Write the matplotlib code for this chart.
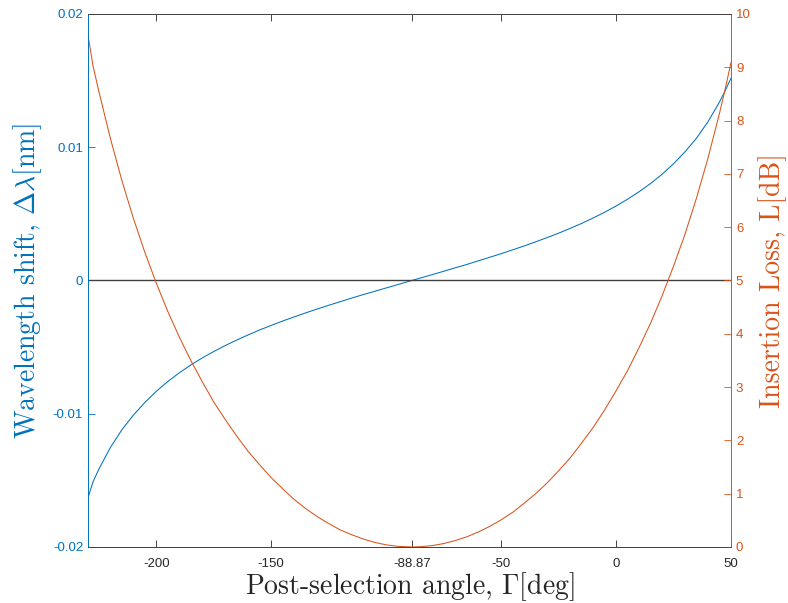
import matplotlib
matplotlib.use('Agg')
import matplotlib.pyplot as plt

# data
angle = [-229.7, -227.5, -225, -220, -215, -210, -205, -200, -195, -190, -185,
         -180, -175, -170, -165, -160, -155, -150, -145, -140, -135, -130,
         -125, -120, -115, -110, -105, -100, -95, -88.87, -85, -80, -75, -70,
         -65, -60, -55, -50, -45, -40, -35, -30, -25, -20, -15, -10, -5,
         0, 5, 10, 15, 20, 25, 30, 35, 40, 45, 47.5, 50]
shift = [-0.0163, -0.0151, -0.01416, -0.01254, -0.01121, -0.01011, -0.00916,
         -0.00832, -0.00758, -0.00693, -0.00634, -0.00581, -0.00533, -0.00488,
         -0.00447, -0.00408, -0.00371, -0.00337, -0.00304, -0.00273, -0.00243,
         -0.00214, -0.00186, -0.00159, -0.00132, -0.00106, -0.00081, -0.00056,
         -0.00031, 0.0, 0.00019, 0.00044, 0.00069, 0.00095, 0.00120, 0.00147,
         0.00174, 0.00201, 0.00230, 0.00259, 0.00290, 0.00322, 0.00355,
         0.00391, 0.00428, 0.00469, 0.00512, 0.00559, 0.00610, 0.00666,
         0.00728, 0.00797, 0.00876, 0.00966, 0.01068, 0.01192, 0.01340,
         0.01426, 0.01519]
loss = [9.6, 9.02, 8.55, 7.67, 6.88, 6.17, 5.53, 4.95, 4.42, 3.94, 3.50,
        3.10, 2.72, 2.39, 2.08, 1.79, 1.54, 1.30, 1.09, 0.89, 0.72, 0.57,
        0.44, 0.32, 0.23, 0.15, 0.086, 0.04, 0.012, 0.0, 0.005, 0.026, 0.064,
        0.12, 0.19, 0.28, 0.385, 0.51, 0.65, 0.82, 1.00, 1.20, 1.43, 1.67,
        1.95, 2.24, 2.57, 2.93, 3.31, 3.74, 4.20, 4.71, 5.27, 5.87, 6.55,
        7.30, 8.14, 8.60, 9.09]

xticks = [-200, -150, -88.87, -50, 0, 50]
xticklabels = ['-200', '-150', '-88.87', '-50', '0', '50']
yticks_left = [-0.02, -0.01, 0, 0.01, 0.02]
yticklabels_left = ['-0.02', '-0.01', '0', '0.01', '0.02']
yticks_right = list(range(0, 11))

blue = '#0072BD'
orange = '#D95319'
gray = '#262626'

plt.rcParams['font.family'] = 'Liberation Sans'
plt.rcParams['mathtext.fontset'] = 'cm'
plt.rcParams['axes.unicode_minus'] = False

fig = plt.figure(figsize=(7.88, 6.03), dpi=100)
ax = fig.add_axes([0.1117, 0.0929, 0.8160, 0.8839])
ax2 = ax.twinx()

ax.plot(angle, shift, color=blue, lw=0.75)
ax.axhline(0, color='#404040', lw=1.0)
ax2.plot(angle, loss, color=orange, lw=0.75)

ax.set_xlim(-229.7, 50)
ax.set_ylim(-0.02, 0.02)
ax2.set_ylim(0, 10)

ax.set_xticks(xticks)
ax.set_xticklabels(xticklabels)
ax.set_yticks(yticks_left)
ax.set_yticklabels(yticklabels_left)
ax2.set_yticks(yticks_right)

ax.tick_params(axis='x', direction='in', top=True, colors=gray, labelsize=9.5,
               length=5, width=0.6, pad=8)
ax.tick_params(axis='y', direction='in', colors=blue, labelsize=9.5,
               length=5, width=0.6)
ax2.tick_params(axis='y', direction='in', colors=orange, labelsize=9.5,
                length=5, width=0.6)

for a in (ax, ax2):
    a.spines['top'].set_color('#404040')
    a.spines['bottom'].set_color('#404040')
    a.spines['left'].set_color(blue)
    a.spines['right'].set_color(orange)
    for s in a.spines.values():
        s.set_linewidth(0.6)

ax.set_xlabel(r'Post-selection angle, $\Gamma$[deg]', family='cmr10',
              fontsize=20, color=gray, labelpad=0)
ax.set_ylabel(r'Wavelength shift, $\Delta\lambda$[nm]', family='cmr10',
              fontsize=20, color=blue, labelpad=6)
ax2.set_ylabel(r'Insertion Loss, L[dB]', family='cmr10',
               fontsize=20, color=orange, labelpad=5)

fig.savefig('out.png', dpi=100)
